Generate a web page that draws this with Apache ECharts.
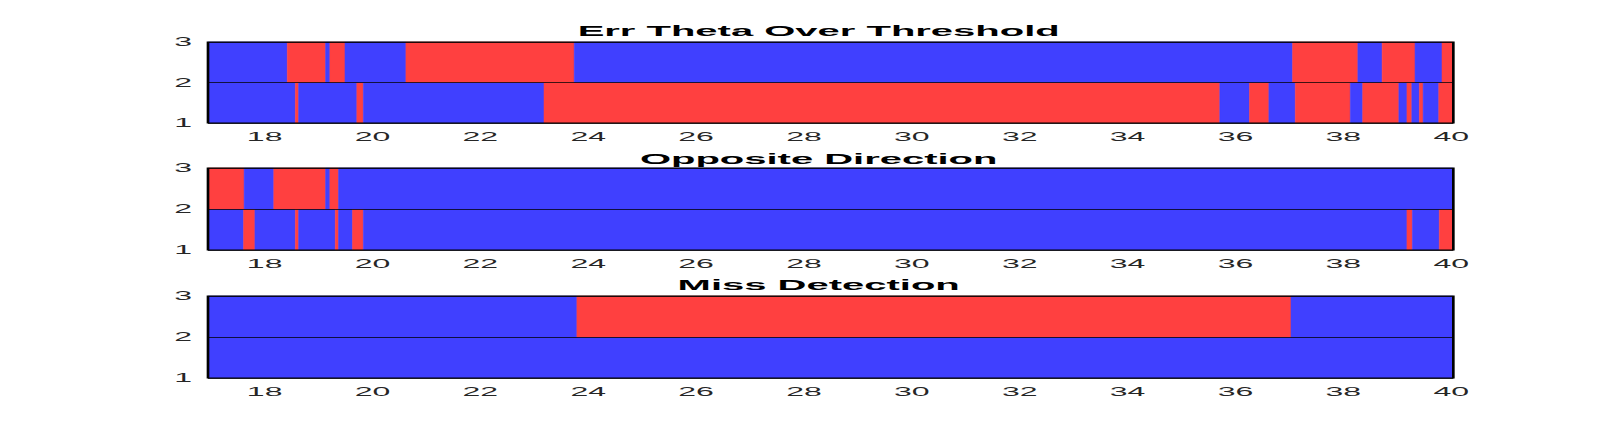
<!DOCTYPE html>
<html>
<head>
<meta charset="utf-8">
<script src="https://cdn.jsdelivr.net/npm/echarts@6/dist/echarts.min.js"></script>
<style>
html,body{margin:0;padding:0;background:#fff;overflow:hidden}
#wrap{width:1600px;height:423px;overflow:hidden;position:relative}
#chart{width:600px;height:423px;transform:scaleX(2.6666667);transform-origin:0 0}
</style>
</head>
<body>
<div id="wrap"><div id="chart"></div></div>
<script>
// ---- data ----
const xTicks = [18, 20, 22, 24, 26, 28, 30, 32, 34, 36, 38, 40];
const yTicks = [1, 2, 3];
const titles = ['Err Theta Over Threshold', 'Opposite Direction', 'Miss Detection'];
const X_MIN = 16.95, X_MAX = 40.04;

// state per segment: 0 = blue (normal), 1 = red (flagged)
const errThetaLowerEdges = [16.95, 18.57, 18.63, 19.71, 19.83, 23.18, 35.71, 36.26, 36.62, 37.11, 38.13, 38.36, 39.03, 39.18, 39.27, 39.41, 39.48, 39.77, 40.04];
const errThetaLowerStates = [0, 1, 0, 1, 0, 1, 0, 1, 0, 1, 0, 1, 0, 1, 0, 1, 0, 1];
const errThetaUpperEdges = [16.95, 18.42, 19.13, 19.21, 19.49, 20.62, 23.74, 37.06, 38.27, 38.72, 39.33, 39.83, 40.04];
const errThetaUpperStates = [0, 1, 0, 1, 0, 1, 0, 1, 0, 1, 0, 1];

const oppositeLowerEdges = [16.95, 17.61, 17.82, 18.57, 18.63, 19.31, 19.37, 19.63, 19.83, 39.18, 39.28, 39.78, 40.04];
const oppositeLowerStates = [0, 1, 0, 1, 0, 1, 0, 1, 0, 1, 0, 1];
const oppositeUpperEdges = [16.95, 17.62, 18.17, 19.13, 19.21, 19.37, 40.04];
const oppositeUpperStates = [1, 0, 1, 0, 1, 0];

const missLowerEdges = [16.95, 40.04];
const missLowerStates = [0];
const missUpperEdges = [16.95, 23.79, 37.03, 40.04];
const missUpperStates = [0, 1, 0];

const BLUE = '#4040FF', RED = '#FF4040';
const FONT = "'Liberation Sans', Arial, Helvetica, sans-serif";

function rowData(edges, states, yLow) {
  const out = [];
  for (let j = 0; j < states.length; j++) {
    out.push([edges[j], edges[j + 1], yLow, yLow + 1, states[j]]);
  }
  return out;
}

const panels = [
  rowData(errThetaLowerEdges, errThetaLowerStates, 1).concat(rowData(errThetaUpperEdges, errThetaUpperStates, 2)),
  rowData(oppositeLowerEdges, oppositeLowerStates, 1).concat(rowData(oppositeUpperEdges, oppositeUpperStates, 2)),
  rowData(missLowerEdges, missLowerStates, 1).concat(rowData(missUpperEdges, missUpperStates, 2))
];

const gridTops = [42, 168, 296];
const gridHeights = [81, 82, 82];
const titleTops = [23, 151, 277];

function renderItem(params, api) {
  const p0 = api.coord([api.value(0), api.value(3)]);
  const p1 = api.coord([api.value(1), api.value(2)]);
  const c = api.value(4) ? RED : BLUE;
  return {
    type: 'rect',
    shape: { x: p0[0], y: p0[1], width: p1[0] - p0[0], height: p1[1] - p0[1] },
    style: { fill: c, stroke: c, lineWidth: 0.3 }
  };
}

const option = {
  animation: false,
  backgroundColor: '#fff',
  title: titles.map((t, k) => ({
    text: t,
    left: 307,
    textAlign: 'center',
    top: titleTops[k],
    padding: 0,
    textStyle: { fontFamily: FONT, fontSize: 15, fontWeight: 'bold', color: '#000', lineHeight: 16 }
  })),
  grid: gridTops.map((t, k) => ({
    left: 78, right: 55, top: t, height: gridHeights[k],
    show: true, borderColor: '#000', borderWidth: 1, backgroundColor: 'transparent', z: 10
  })),
  xAxis: gridTops.map((t, k) => ({
    gridIndex: k, type: 'value', min: X_MIN, max: X_MAX,
    axisLabel: { customValues: xTicks, fontFamily: FONT, fontSize: 12, color: '#262626', margin: 8 },
    axisTick: { show: false }, axisLine: { show: false }, splitLine: { show: false }
  })),
  yAxis: gridTops.map((t, k) => ({
    gridIndex: k, type: 'value', min: yTicks[0], max: yTicks[yTicks.length - 1], interval: 1, z: 5,
    axisLabel: { fontFamily: FONT, fontSize: 12, color: '#262626', margin: 6 },
    axisTick: { show: false }, axisLine: { show: false },
    splitLine: { show: true, lineStyle: { color: '#000', opacity: 0.75, width: 1 } }
  })),
  series: panels.map((d, k) => ({
    type: 'custom', xAxisIndex: k, yAxisIndex: k,
    renderItem: renderItem,
    encode: { x: [0, 1], y: [2, 3] },
    data: d
  }))
};

const chart = echarts.init(document.getElementById('chart'), null, { renderer: 'svg', width: 600, height: 423 });
chart.setOption(option);
</script>
</body>
</html>
